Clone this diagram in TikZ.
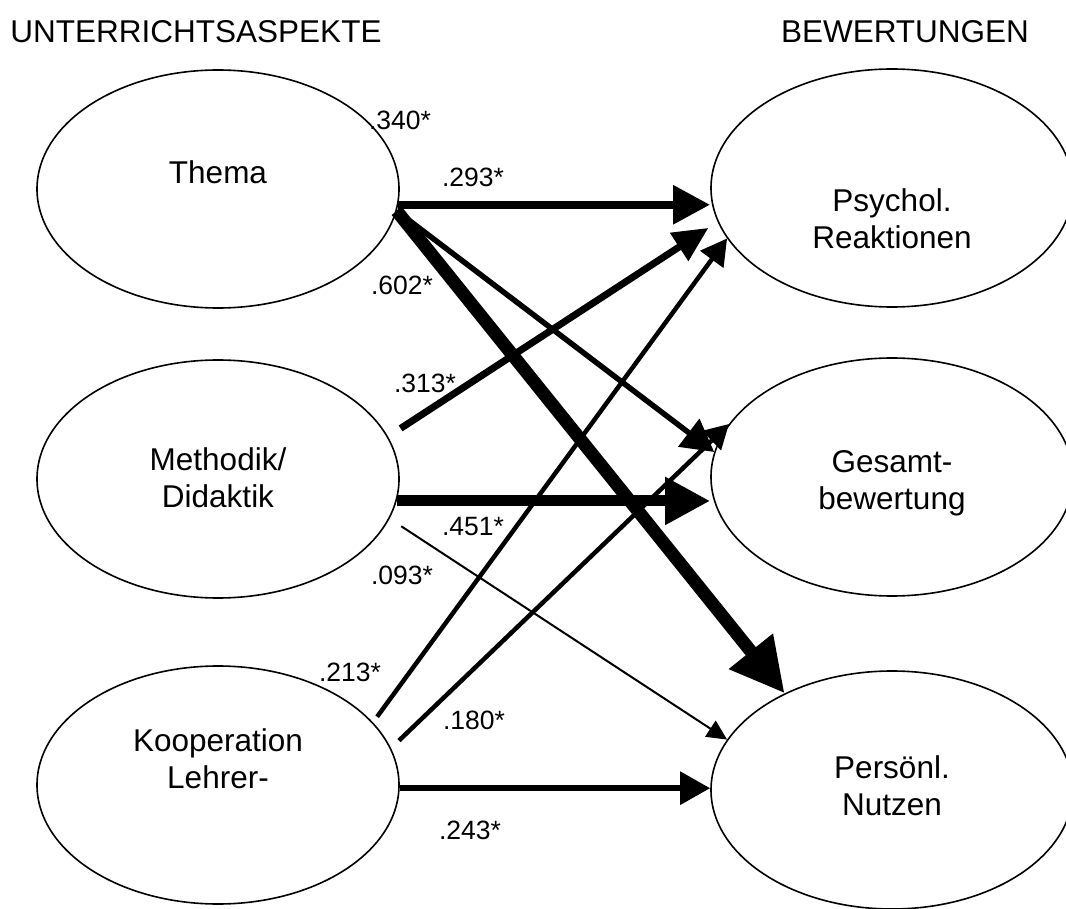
\documentclass[tikz,border=0pt]{standalone}
\usepackage{fontspec}
\setmainfont{Liberation Sans}
\usetikzlibrary{arrows.meta, positioning, shapes.geometric, calc}

\begin{document}
\begin{tikzpicture}[x=1pt, y=-1pt,
    ell/.style={ellipse, draw, line width=1.6pt, minimum width=362pt, minimum height=238pt, inner sep=0pt},
    txt/.style={font=\fontsize{31.5}{37}\selectfont, align=center},
    coef/.style={font=\fontsize{26.5}{30}\selectfont, inner sep=0pt},
    pfeil/.style n args={3}{line width=#1, -{Triangle[length=#2, width=#3]}}]

\useasboundingbox (0,0) rectangle (1066,909);

% Headings
\node[txt] (kopfL) at (196,32) {UNTERRICHTSASPEKTE};
\node[txt] (kopfR) at (905,32) {BEWERTUNGEN};

% Ellipses left
\node[ell, label={[txt, yshift=17pt]center:Thema}] (thema) at (218,189) {};
\node[ell, label={[txt, yshift=1pt]center:{Methodik/\\Didaktik}}] (meth) at (218,479) {};
\node[ell, label={[txt, yshift=26pt]center:{Kooperation\\Lehrer-}}] (koop) at (218,785) {};

% Ellipses right
\node[ell, label={[txt, yshift=-31pt]center:{Psychol.\\Reaktionen}}] (psych) at (892,188) {};
\node[ell, label={[txt, yshift=-6pt]center:{Gesamt-\\bewertung}}] (gesamt) at (892,477) {};
\node[ell, label={[txt, yshift=4pt]center:{Persönl.\\Nutzen}}] (pers) at (892,790) {};

% Arrows
\draw[pfeil={8.5pt}{37pt}{37pt}] (thema.-5) -- (thema.-5 -| psych.west);
\draw[pfeil={5.5pt}{32pt}{34pt}] (thema.-7) -- (gesamt.172.5);
\draw[pfeil={13pt}{54pt}{53pt}] (thema.-7) -- (pers.138.6);
\draw[pfeil={7pt}{35pt}{32pt}, shorten <=15pt, shorten >=11pt] (meth.14.3) -- (psych.191.5);
\draw[pfeil={11pt}{45pt}{45pt}] (meth.-7.5) -- (meth.-7.5 -| gesamt.west);
\draw[pfeil={2pt}{20pt}{19pt}, shorten <=14pt] (meth.-13.4) -- (pers.163.2);
\draw[pfeil={4.5pt}{26pt}{28pt}, shorten <=7pt] (koop.22.2) -- (psych.197.7);
\draw[pfeil={4.5pt}{24pt}{26pt}, shorten <=11pt] (koop.12.1) -- (gesamt.162.4);
\draw[pfeil={6pt}{30pt}{32pt}] (koop.-1.6) -- (koop.-1.6 -| pers.west);

% Labels
\node[coef] (c340) at (400,120) {.340*};
\node[coef] (c293) at (473,177) {.293*};
\node[coef] (c602) at (402,285) {.602*};
\node[coef] (c313) at (425,383) {.313*};
\node[coef] (c451) at (473,527) {.451*};
\node[coef] (c093) at (402,575) {.093*};
\node[coef] (c213) at (350,672) {.213*};
\node[coef] (c180) at (474,720) {.180*};
\node[coef] (c243) at (470,830) {.243*};
\end{tikzpicture}
\end{document}
